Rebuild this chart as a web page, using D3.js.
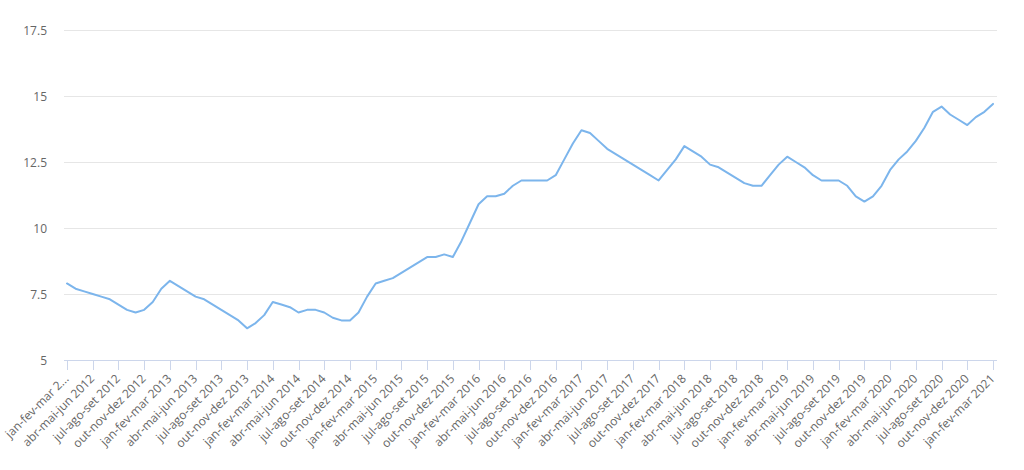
<!DOCTYPE html>
<html><head><meta charset="utf-8">
<script src="https://cdn.jsdelivr.net/npm/d3@7"></script>
<style>body{margin:0;background:#fff;} svg{display:block;font-family:"Open Sans",sans-serif;}</style>
</head><body><svg id="c" width="1024" height="470"></svg>
<script>
const years = [2012,2013,2014,2015,2016,2017,2018,2019,2020,2021];
const trimesters = ["jan-fev-mar","fev-mar-abr","mar-abr-mai","abr-mai-jun","mai-jun-jul","jun-jul-ago","jul-ago-set","ago-set-out","set-out-nov","out-nov-dez","nov-dez-jan","dez-jan-fev"];
const values = [
 7.9,7.7,7.6,7.5,7.4,7.3,7.1,6.9,6.8,6.9,7.2,7.7,
 8.0,7.8,7.6,7.4,7.3,7.1,6.9,6.7,6.5,6.2,6.4,6.7,
 7.2,7.1,7.0,6.8,6.9,6.9,6.8,6.6,6.5,6.5,6.8,7.4,
 7.9,8.0,8.1,8.3,8.5,8.7,8.9,8.9,9.0,8.9,9.5,10.2,
 10.9,11.2,11.2,11.3,11.6,11.8,11.8,11.8,11.8,12.0,12.6,13.2,
 13.7,13.6,13.3,13.0,12.8,12.6,12.4,12.2,12.0,11.8,12.2,12.6,
 13.1,12.9,12.7,12.4,12.3,12.1,11.9,11.7,11.6,11.6,12.0,12.4,
 12.7,12.5,12.3,12.0,11.8,11.8,11.8,11.6,11.2,11.0,11.2,11.6,
 12.2,12.6,12.9,13.3,13.8,14.4,14.6,14.3,14.1,13.9,14.2,14.4,
 14.7
];
const yTicks = [5,7.5,10,12.5,15,17.5];
const categories = values.map((v,i)=>{
  const yr = years[0] + Math.floor(i/12);
  const t = trimesters[i%12];
  return t + " " + (t==="nov-dez-jan"||t==="dez-jan-fev" ? yr+1 : yr);
});

const svg = d3.select("#c");
const pLeft=64, pRight=997, pTop=30, pBottom=360;
const x = d3.scalePoint().domain(categories).range([67,993]);
const y = d3.scaleLinear().domain([5,17.5]).range([pBottom,pTop]);

// grid
svg.append("g").selectAll("line").data(yTicks.filter(d=>d>5)).join("line")
  .attr("x1",pLeft).attr("x2",pRight).attr("y1",d=>Math.round(y(d))+0.5).attr("y2",d=>Math.round(y(d))+0.5)
  .attr("stroke","#e6e6e6").attr("stroke-width",1);
// y labels
svg.append("g").selectAll("text").data(yTicks).join("text")
  .attr("x",47).attr("y",d=>y(d)+4.5).attr("text-anchor","end")
  .attr("fill","#666").attr("font-size","12px")
  .text(d=>String(d));
// x axis line
svg.append("line").attr("x1",pLeft).attr("x2",pRight).attr("y1",pBottom+0.5).attr("y2",pBottom+0.5)
  .attr("stroke","#ccd6eb").attr("stroke-width",1);
const tickCats = categories.filter((c,i)=>i%3===0);
svg.append("g").selectAll("line").data(tickCats).join("line")
  .attr("x1",c=>Math.round(x(c))+0.5).attr("x2",c=>Math.round(x(c))+0.5)
  .attr("y1",pBottom).attr("y2",pBottom+10)
  .attr("stroke","#ccd6eb").attr("stroke-width",1);
svg.append("g").selectAll("text").data(tickCats).join("text")
  .attr("transform",c=>`translate(${x(c)+2.5},${pBottom+19.5}) rotate(-45)`)
  .attr("text-anchor","end").attr("fill","#666").attr("font-size","12px")
  .text((c,i)=> i===0 ? "jan-fev-mar 2..." : c);
// line
const line = d3.line().x((d,i)=>x(categories[i])).y(d=>y(d));
svg.append("path").datum(values).attr("d",line).attr("fill","none")
  .attr("stroke","#7cb5ec").attr("stroke-width",2).attr("stroke-linejoin","round").attr("stroke-linecap","round");
</script></body></html>
